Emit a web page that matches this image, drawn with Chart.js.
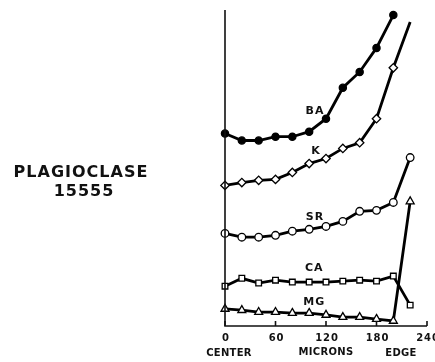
<!DOCTYPE html>
<html>
<head>
<meta charset="utf-8">
<script src="https://cdn.jsdelivr.net/npm/chart.js@4"></script>
<style>
  html, body { margin: 0; padding: 0; background: #fff; }
  #wrap { width: 435px; height: 362px; position: relative; }
</style>
</head>
<body>
<div id="wrap"><canvas id="myChart"></canvas></div>
<script>
// Distancia desde el centro del cristal (micrones)
const micrones = [0, 20, 40, 60, 80, 100, 120, 140, 160, 180, 200, 220];

// Concentraciones relativas (escala arbitraria 0-100)
const ba = [60.9, 58.7, 58.7, 59.9, 59.9, 61.5, 65.6, 75.4, 80.4, 88.0, 98.4];
const k  = [44.5, 45.4, 46.1, 46.4, 48.6, 51.4, 53.0, 56.2, 58.0, 65.6, 81.7, 96.2];
const sr = [29.3, 28.1, 28.1, 28.7, 30.0, 30.6, 31.5, 33.1, 36.3, 36.6, 39.1, 53.3];
const ca = [12.6, 15.1, 13.6, 14.5, 13.9, 13.9, 13.9, 14.2, 14.5, 14.2, 15.8, 6.6];
const mg = [5.4, 5.0, 4.4, 4.4, 4.1, 4.1, 3.5, 2.8, 2.8, 2.2, 1.6, 39.4];

const ticksX = [0, 60, 120, 180, 240];

// Etiquetas de cada curva (posición en unidades de datos)
const etiquetas = [
    { texto: 'BA', x: 107, y: 68.1 },
    { texto: 'K',  x: 108, y: 55.2 },
    { texto: 'SR', x: 107, y: 34.4 },
    { texto: 'CA', x: 106, y: 18.3 },
    { texto: 'MG', x: 106, y: 7.6 }
];

function serie(valores, estilo, relleno, radio) {
    return {
        data: valores.map((v, i) => ({ x: micrones[i], y: v })),
        borderColor: '#000',
        borderWidth: 2.8,
        pointStyle: estilo,
        pointBackgroundColor: relleno,
        pointBorderColor: '#000',
        pointBorderWidth: 1.3,
        pointRadius: radio,
        tension: 0,
        clip: false
    };
}

// la curva de K termina sin marcador
const radiosK = k.map((_, i) => (i === k.length - 1 ? 0 : 4.2));

// Ejes, marcas y textos dibujados a mano
const ejes = {
    id: 'ejes',
    afterDatasetsDraw(chart) {
        const { ctx, chartArea, scales } = chart;
        const fx = scales.x, fy = scales.y;
        const base = fy.getPixelForValue(0);
        ctx.save();
        ctx.strokeStyle = '#111';
        ctx.lineWidth = 1.6;
        ctx.beginPath();
        ctx.moveTo(chartArea.left, chartArea.top);
        ctx.lineTo(chartArea.left, base);
        ctx.lineTo(fx.getPixelForValue(240), base);
        ctx.stroke();
        ticksX.forEach(t => {
            const px = fx.getPixelForValue(t);
            ctx.beginPath();
            ctx.moveTo(px, base);
            ctx.lineTo(px, base - 5);
            ctx.stroke();
        });

        ctx.fillStyle = '#111';
        ctx.textAlign = 'center';
        ctx.textBaseline = 'middle';
        ctx.font = 'bold 10px "DejaVu Sans"';
        ctx.letterSpacing = '0.8px';
        ticksX.forEach(t => {
            ctx.fillText(String(t), fx.getPixelForValue(t) + 1, base + 12);
        });
        ctx.letterSpacing = '0.3px';
        ctx.fillText('CENTER', 229, base + 27);
        ctx.fillText('MICRONS', 326, base + 26);
        ctx.fillText('EDGE', 401, base + 27);

        ctx.font = 'bold 11px "DejaVu Sans"';
        ctx.letterSpacing = '1px';
        etiquetas.forEach(e => {
            ctx.fillText(e.texto, fx.getPixelForValue(e.x), fy.getPixelForValue(e.y));
        });

        ctx.font = 'bold 16px "DejaVu Sans"';
        ctx.letterSpacing = '1px';
        ctx.fillText('PLAGIOCLASE', 81, 173);
        ctx.fillText('15555', 84, 192);
        ctx.restore();
    }
};

const config = {
    type: 'line',
    data: {
        datasets: [
            serie(ba, 'circle', '#000', 3.6),
            serie(k, 'rectRot', '#fff', radiosK),
            serie(sr, 'circle', '#fff', 3.8),
            serie(ca, 'rect', '#fff', 4),
            serie(mg, 'triangle', '#fff', 4.6)
        ]
    },
    options: {
        responsive: true,
        maintainAspectRatio: false,
        animation: false,
        layout: {
            padding: { top: 10, left: 225, right: 8, bottom: 36 }
        },
        plugins: {
            legend: { display: false },
            tooltip: { enabled: false }
        },
        scales: {
            x: { type: 'linear', min: 0, max: 240, display: false },
            y: { min: 0, max: 100, display: false }
        }
    },
    plugins: [ejes]
};

const myChart = new Chart(document.getElementById('myChart'), config);
</script>
</body>
</html>
